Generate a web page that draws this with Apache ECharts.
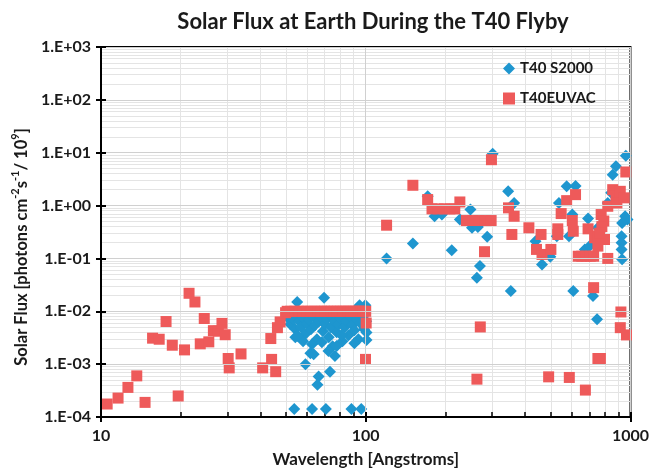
<!DOCTYPE html>
<html><head><meta charset="utf-8">
<script src="https://cdn.jsdelivr.net/npm/echarts@6/dist/echarts.min.js"></script>
<style>html,body{margin:0;padding:0;background:#fff}#c{width:652px;height:473px}</style>
</head><body><div id="c"></div>
<script>
const titleText = 'Solar Flux at Earth During the T40 Flyby';
const xName = 'Wavelength [Angstroms]';
const yNameParts = ['Solar Flux [photons cm', '-2', 's', '-1', '/ 10', '9', ']'];
const seriesNames = ['T40 S2000', 'T40EUVAC'];
const xMajorTicks = [10, 100, 1000];
const xMinorTicks = [20, 30, 40, 50, 60, 70, 80, 90, 200, 300, 400, 500, 600, 700, 800, 900];
const yMajorTicks = [1e-4, 1e-3, 1e-2, 1e-1, 1, 10, 100, 1000];
const yMinorSteps = [2, 3, 4, 5, 6, 7, 8, 9];

const s2000Wave = [
  50.6, 51.9, 53.3, 54.2, 55.1, 56.1, 57.0, 58.0, 59.0, 60.0, 61.1, 62.1, 63.2, 64.3, 65.4, 66.5, 67.7, 68.9, 70.1, 71.3,
  72.5, 73.8, 75.0, 76.3, 77.7, 79.0, 80.4, 81.7, 83.2, 84.6, 86.1, 87.6, 89.1, 90.6, 92.2, 93.8, 95.4, 97.0, 98.7, 100.4,
  58.0, 62.7, 68.3, 75.0, 81.0, 90.6, 54.2,
  55.4, 61.8, 63.6, 59.2, 73.3, 66.4, 65.7, 72.3, 76.5, 77.7,
  53.7, 62.7, 70.7, 88.3, 96.2,
  55.1, 69.6, 94.8, 99.7, 100.7, 100.7,
  119.9, 150.7, 171.4, 182, 194, 211.3, 226.8, 248.6, 252, 265.3, 287.6, 270, 263, 301.8,
  345.2, 353.3, 363.6, 437.8, 463.4, 498, 527, 537, 574.2, 620.3, 603, 586.1, 691.7, 672.4, 753.5,
  821, 846, 881.7, 857, 960.5, 955, 974.6, 925.7, 925.7, 925.7, 930, 930,
  608, 722, 748, 700, 740
];
const s2000Flux = [
  7.7e-3, 5.69e-3, 7.06e-3, 4.57e-3, 8.4e-3, 6.48e-3, 4.99e-3, 7.7e-3, 3.68e-3, 5.94e-3, 7.06e-3, 4.57e-3, 8.05e-3, 5.45e-3, 2.96e-3, 6.48e-3, 7.7e-3, 4.2e-3, 5.69e-3, 7.06e-3,
  3.23e-3, 4.99e-3, 7.7e-3, 6.48e-3, 4.02e-3, 5.69e-3, 7.4e-3, 2.72e-3, 4.99e-3, 6.48e-3, 3.52e-3, 7.7e-3, 5.45e-3, 4.38e-3, 7.06e-3, 2.96e-3, 5.94e-3, 8.4e-3, 4.57e-3, 6.48e-3,
  2.72e-3, 2.38e-3, 2.6e-3, 2.19e-3, 3.52e-3, 2.49e-3, 3.23e-3,
  3.42e-3, 1.61e-3, 1.54e-3, 1.0e-3, 7.2e-4, 5.86e-4, 4.07e-4, 1.78e-3, 1.43e-3, 2.2e-3,
  1.42e-4, 1.42e-4, 1.42e-4, 1.42e-4, 1.42e-4,
  1.5e-2, 1.8e-2, 1.3e-2, 1.3e-2, 3.96e-3, 2.87e-3,
  0.1, 0.192, 1.5, 0.628, 0.676, 0.1435, 0.545, 0.84, 0.38, 0.395, 0.257, 0.0716, 0.0432, 9.57,
  1.86, 0.0241, 1.12, 0.212, 0.077, 0.1076, 0.264, 1.12, 2.31, 2.35, 0.676, 0.264, 0.569, 0.148, 0.38,
  1.12, 1.75, 5.52, 3.85, 8.78, 0.628, 0.545, 0.264, 0.198, 0.148, 0.0969, 0.466,
  0.0241, 0.0195, 7.06e-3, 0.17, 0.2
];

const euvacWave = [
  10.55, 11.6, 12.64, 13.65, 14.67, 15.66, 16.59, 17.61, 18.59, 19.57, 20.68, 21.51, 22.64, 23.71, 24.55, 25.54, 26.58, 27.75, 28.64, 29.46,
  30.23, 30.5, 33.8, 40.8, 43.8, 44.1, 45.7, 46.4, 47.5, 49.8,
  50.5, 52, 54, 56, 58, 60, 62, 64, 66, 68, 70, 72, 74, 76, 78, 80, 82, 84, 86, 88, 90, 92, 94, 96, 98, 100,
  100.4, 99.8,
  119.9, 150.7, 171.4, 178, 188, 198, 208, 217, 226.8, 240, 254, 268, 283, 297.7, 298.5, 281, 270.9, 263.1,
  346.2, 363.6, 356.5, 413.4, 459.5, 441.6, 463.4, 500.6, 531.6, 531.6, 547.4, 574.2, 620.3, 603, 608.1,
  635, 655, 680, 705, 726, 691.7, 732.4, 753.5, 775.1, 793.2, 821, 857, 881.7, 915.5, 889, 947.3, 960.5,
  821, 798, 753.5, 780, 765, 726, 920.3, 915.5, 966, 753.5, 770, 490.9, 587.6, 675.8
];
const euvacFlux = [
  1.76e-4, 2.28e-4, 3.63e-4, 6.0e-4, 1.89e-4, 3.1e-3, 2.96e-3, 6.4e-3, 2.28e-3, 2.5e-4, 1.86e-3, 2.19e-2, 1.5e-2, 2.42e-3, 7.3e-3, 2.64e-3, 4.3e-3, 4.2e-3, 5.9e-3, 3.6e-3,
  1.28e-3, 8.5e-4, 1.56e-3, 8.5e-4, 3.05e-3, 1.23e-3, 7.2e-4, 4.9e-3, 6.3e-3, 9.4e-3,
  0.01, 0.01, 0.01, 0.01, 0.01, 0.01, 0.01, 0.01, 0.01, 0.01, 0.01, 0.01, 0.01, 0.01, 0.01, 0.01, 0.01, 0.01, 0.01, 0.01, 0.01, 0.01, 0.01, 0.01, 0.01, 0.01,
  6.0e-3, 1.23e-3,
  0.425, 2.42, 1.30, 0.866, 0.866, 0.866, 0.866, 0.866, 1.17, 0.521, 0.521, 0.521, 0.521, 0.521, 7.38, 0.134, 5.06e-3, 5.2e-4,
  0.905, 0.628, 0.284, 0.38, 0.284, 0.148, 0.119, 0.148, 0.363, 0.284, 0.706, 1.24, 1.61, 0.521, 0.327,
  0.110, 0.110, 0.110, 0.110, 0.110, 0.363, 0.246, 0.171, 0.676, 0.51, 0.97, 2.0, 1.50, 1.86, 1.12, 1.40, 4.32,
  0.100, 0.228, 0.264, 0.40, 0.30, 0.028, 9.7e-3, 4.9e-3, 3.57e-3, 1.28e-3, 1.28e-3, 5.75e-4, 5.6e-4, 3.23e-4
];

const yMinorTicks = [];
yMajorTicks.slice(0, -1).forEach(function (d) { yMinorSteps.forEach(function (s) { yMinorTicks.push(d * s); }); });

const FONT = 'Lato';
const TXT = '#1a1a1a';
const BLUE = '#1e96cf';
const RED = '#ee5a5a';

function fmtY(v) {
  const e = Math.round(Math.log10(v));
  const s = e < 0 ? '-' : '+';
  const a = Math.abs(e);
  return '1.E' + s + (a < 10 ? '0' + a : a);
}
const yNameRich = '{n|' + yNameParts[0] + '}{s|' + yNameParts[1] + '}{n|' + yNameParts[2] + '}{s|' + yNameParts[3] + '}{n|' + yNameParts[4] + '}{s|' + yNameParts[5] + '}{n|' + yNameParts[6] + '}';

const chart = echarts.init(document.getElementById('c'), null, { renderer: 'canvas' });
const baseX = { type: 'log', logBase: 10, min: 10, max: 1000, gridIndex: 0, position: 'bottom' };
const baseY = { type: 'log', logBase: 10, min: 1e-4, max: 1e3, gridIndex: 0, position: 'left' };
chart.setOption({
  animation: false,
  backgroundColor: '#fff',
  title: {
    text: titleText, left: 368, top: 6, textAlign: 'center',
    textStyle: { fontFamily: FONT, fontSize: 22, fontWeight: 'bold', color: TXT }
  },
  legend: {
    orient: 'vertical', left: 498, top: 56, itemWidth: 12, itemHeight: 12, itemGap: 15,
    textStyle: { fontFamily: FONT, fontSize: 15, fontWeight: 'bold', color: TXT },
    data: [{ name: seriesNames[0], icon: 'diamond' }, { name: seriesNames[1], icon: 'rect' }]
  },
  grid: { left: 101, right: 14, top: 47, bottom: 55, show: true, borderColor: '#000', borderWidth: 2, backgroundColor: 'transparent' },
  xAxis: [
    Object.assign({}, baseX, {
      name: xName, nameLocation: 'middle', nameGap: 34,
      nameTextStyle: { fontFamily: FONT, fontSize: 17, fontWeight: 'bold', color: TXT },
      axisLine: { show: true, lineStyle: { color: '#000', width: 2 } },
      axisTick: { show: true, length: 5, lineStyle: { color: '#000', width: 2 }, customValues: xMajorTicks },
      axisLabel: { margin: 11, customValues: xMajorTicks, fontFamily: FONT, fontSize: 16, fontWeight: 'bold', color: TXT, formatter: function (v) { return String(Math.round(v)); } },
      splitLine: { show: true, lineStyle: { color: '#d0d0d0', width: 1 } },
      z: 3
    }),
    Object.assign({}, baseX, {
      axisLine: { show: false },
      axisTick: { show: true, inside: true, length: 5, lineStyle: { color: '#000', width: 1.5 }, customValues: xMinorTicks },
      axisLabel: { show: false },
      splitLine: { show: true, lineStyle: { color: '#e4e4e4', width: 1 } },
      z: 1
    }),
    Object.assign({}, baseX, {
      axisLine: { show: false },
      axisTick: { show: true, inside: true, length: 5, lineStyle: { color: '#000', width: 2 }, customValues: xMajorTicks },
      axisLabel: { show: false },
      splitLine: { show: false },
      z: 3
    })
  ],
  yAxis: [
    Object.assign({}, baseY, {
      name: yNameRich, nameLocation: 'middle', nameGap: 64, nameRotate: 90,
      nameTextStyle: {
        fontFamily: FONT, fontSize: 16.5, fontWeight: 'bold', color: TXT,
        padding: [0, 30, 0, 0],
        rich: {
          n: { fontFamily: FONT, fontSize: 16.5, fontWeight: 'bold', color: TXT, lineHeight: 24, verticalAlign: 'middle' },
          s: { fontFamily: FONT, fontSize: 11, fontWeight: 'bold', color: TXT, verticalAlign: 'top' }
        }
      },
      axisLine: { show: true, lineStyle: { color: '#000', width: 2 } },
      axisTick: { show: true, length: 5, lineStyle: { color: '#000', width: 2 }, customValues: yMajorTicks },
      axisLabel: { margin: 10, customValues: yMajorTicks, fontFamily: FONT, fontSize: 16, fontWeight: 'bold', color: TXT, formatter: fmtY },
      splitLine: { show: true, lineStyle: { color: '#d0d0d0', width: 1 } },
      z: 3
    }),
    Object.assign({}, baseY, {
      axisLine: { show: false },
      axisTick: { show: false, customValues: yMinorTicks },
      axisLabel: { show: false },
      splitLine: { show: true, lineStyle: { color: '#e4e4e4', width: 1 } },
      z: 1
    }),
    Object.assign({}, baseY, {
      axisLine: { show: false },
      axisTick: { show: true, inside: true, length: 5, lineStyle: { color: '#000', width: 2 }, customValues: yMajorTicks },
      axisLabel: { show: false },
      splitLine: { show: false },
      z: 3
    })
  ],
  series: [
    {
      name: seriesNames[0], type: 'scatter', xAxisIndex: 0, yAxisIndex: 0,
      symbol: 'diamond', symbolSize: 12,
      itemStyle: { color: BLUE, opacity: 1 },
      data: s2000Wave.map(function (w, i) { return [w, s2000Flux[i]]; })
    },
    {
      name: seriesNames[1], type: 'scatter', xAxisIndex: 0, yAxisIndex: 0,
      symbol: 'rect', symbolSize: 11,
      itemStyle: { color: RED, opacity: 1 },
      data: euvacWave.map(function (w, i) { return [w, euvacFlux[i]]; })
    }
  ]
});
</script>
</body></html>
